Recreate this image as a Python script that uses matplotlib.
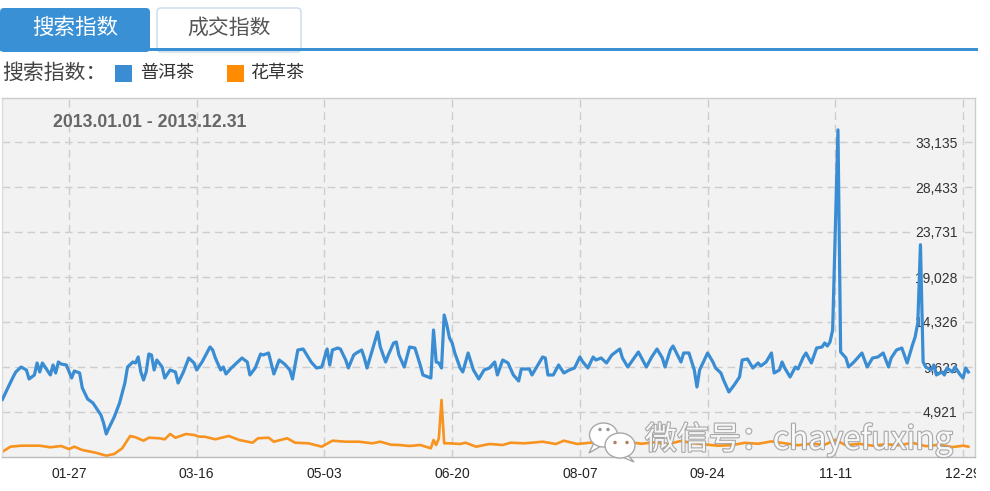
import matplotlib
matplotlib.use("Agg")
import matplotlib.pyplot as plt
import matplotlib.patheffects as pe
from matplotlib.patches import Rectangle, FancyBboxPatch, Ellipse, Polygon

plt.rcParams['font.family'] = ['Liberation Sans', 'Noto Sans CJK SC', 'DejaVu Sans']
CJK = ['Noto Sans CJK SC', 'DejaVu Sans']

# day of year (0 = 01-01) and index values
PUER_DAYS = [1, 3, 5, 6, 8, 10, 11, 13, 14, 15, 16, 19, 20, 21, 22, 23, 25, 27, 28, 30,
             31, 33, 35, 36, 38, 39, 40, 41, 43, 45, 47, 48, 50, 51, 52, 53, 54, 55, 56, 57,
             58, 59, 61, 62, 64, 66, 67, 69, 71, 73, 74, 76, 79, 80, 81, 83, 84, 85, 87, 89,
             91, 93, 94, 96, 98, 99, 101, 103, 105, 107, 109, 110, 112, 114, 117, 119, 121, 123, 124, 125,
             127, 128, 130, 131, 133, 134, 136, 137, 138, 140, 142, 143, 145, 146, 148, 149, 150, 152, 154, 156,
             158, 159, 162, 163, 164, 165, 166, 167, 168, 169, 170, 171, 173, 174, 176, 178, 180, 182, 184, 186,
             187, 189, 191, 193, 195, 196, 199, 200, 204, 205, 206, 208, 210, 212, 214, 216, 218, 219, 221, 223,
             224, 226, 228, 230, 233, 234, 236, 240, 243, 245, 247, 249, 250, 252, 253, 256, 257, 259, 261, 262,
             263, 266, 268, 269, 271, 272, 274, 276, 278, 279, 281, 283, 285, 286, 288, 290, 291, 293, 294, 295,
             297, 299, 300, 302, 303, 305, 307, 309, 310, 311, 312, 313, 315, 316, 318, 319, 321, 323, 324, 326,
             328, 330, 332, 334, 335, 337, 339, 341, 343, 344, 345, 346, 347, 348, 350, 351, 352, 354, 355, 356,
             358, 359, 361, 362, 363, 364]
PUER_VALUES = [6248, 7429, 8579, 9101, 9623, 9310, 8370, 8788, 10042, 9101, 10042, 8788, 9832, 8997, 10146, 9937, 9832, 8474, 9205, 8997,
               7429, 6280, 5862, 5444, 4607, 3771, 2622, 3249, 4398, 5862, 7952, 9623, 10146, 10042, 10669, 9101, 8265, 9101, 10982, 10878,
               9310, 10355, 9623, 8474, 9310, 9101, 7952, 9101, 10564, 10042, 9310, 10146, 11714, 11400, 10564, 9310, 9623, 8892, 9519, 10042,
               10564, 10146, 8788, 9519, 10982, 10878, 11086, 8892, 10355, 9937, 9310, 8370, 11400, 11504, 10146, 9519, 9623, 11504, 9832, 11400,
               11609, 11504, 10355, 9519, 10878, 11086, 11400, 10564, 9519, 11400, 13281, 11714, 10146, 10878, 12132, 12236, 10878, 9623, 11714, 11609,
               9832, 8788, 8474, 13490, 10146, 10042, 9519, 15057, 14013, 12654, 12132, 11086, 9519, 9101, 11086, 9310, 8370, 9310, 9519, 10146,
               8788, 10355, 10042, 8788, 8160, 9415, 9415, 8788, 10669, 10564, 8788, 8788, 9832, 8997, 9310, 9519, 10669, 10200, 9519, 10669,
               10355, 10564, 10042, 10878, 11504, 10564, 9623, 11191, 9623, 10669, 11504, 10564, 9623, 11400, 11818, 10146, 11086, 11086, 9310, 7534,
               9310, 11086, 10146, 9519, 8997, 8265, 7011, 7743, 8579, 10355, 10460, 9519, 10042, 9728, 10146, 11086, 8997, 9310, 10146, 9519,
               8579, 9623, 9415, 10669, 11086, 10042, 11609, 11714, 12132, 11818, 12236, 13490, 34400, 11191, 10564, 9623, 10146, 10773, 11086, 9623,
               10564, 10669, 11086, 9623, 10564, 11400, 11609, 10042, 11923, 12759, 14221, 22400, 10146, 9623, 9310, 9832, 8788, 9101, 8788, 9519,
               9101, 9623, 8788, 8474, 9519, 9101]

HUACAO_DAYS = [1, 4, 8, 11, 15, 19, 23, 26, 28, 31, 36, 40, 43, 46, 48, 49, 51, 54, 56, 60,
               62, 64, 66, 70, 73, 75, 77, 81, 86, 90, 95, 97, 101, 103, 108, 111, 116, 121, 125, 130,
               135, 140, 143, 147, 150, 154, 158, 162, 163, 164, 165, 166, 167, 169, 173, 175, 179, 184, 189, 192,
               197, 200, 204, 209, 212, 217, 222, 226, 231, 236, 241, 246, 251, 256, 261, 266, 270, 275, 280, 285,
               290, 295, 300, 305, 310, 314, 318, 323, 328, 333, 338, 343, 348, 353, 358, 362, 364]
HUACAO_VALUES = [772, 1295, 1399, 1399, 1399, 1232, 1368, 1054, 1295, 950, 668, 354, 532, 1128, 1995, 2413, 2277, 1922, 2235, 2173,
                 2068, 2622, 2235, 2622, 2518, 2340, 2340, 2068, 2413, 1995, 1713, 2173, 2235, 1817, 2173, 1713, 1650, 1295, 1922, 1817,
                 1817, 1650, 1817, 1500, 1473, 1368, 1473, 1128, 1995, 1473, 2173, 6175, 1650, 1650, 1577, 1713, 1295, 1577, 1473, 1713,
                 1650, 1713, 1817, 1577, 1922, 1577, 1713, 1650, 1500, 1817, 1600, 1750, 1550, 1900, 1650, 1500, 1400, 1450, 1700, 1600,
                 1850, 1650, 1450, 1600, 1500, 2000, 1450, 1600, 1400, 1550, 1450, 1700, 1350, 1500, 1250, 1400, 1300]

X_TICKS = [26, 74, 122, 170, 218, 266, 314, 362]
X_LABELS = ['01-27', '03-16', '05-03', '06-20', '08-07', '09-24', '11-11', '12-29']
Y_TICKS = [4921, 9623, 14326, 19028, 23731, 28433, 33135]
Y_LABELS = ['4,921', '9,623', '14,326', '19,028', '23,731', '28,433', '33,135']

BLUE = '#3A8DD3'
ORANGE = '#F7931E'
W, H = 990, 491

fig = plt.figure(figsize=(W / 100, H / 100), dpi=100)
fig.patch.set_facecolor('white')

# main plot
ax = fig.add_axes([2 / W, 34 / H, 973 / W, 359 / H])
ax.set_facecolor('#F2F2F2')
ax.plot(PUER_DAYS, PUER_VALUES, color=BLUE, lw=2.3, solid_joinstyle='round', zorder=3)
ax.plot(HUACAO_DAYS, HUACAO_VALUES, color=ORANGE, lw=1.9, solid_joinstyle='round', zorder=2.5)
ax.set_xlim(0.82, 366.5)
ax.set_ylim(218, 37734)
ax.set_axisbelow(True)
ax.grid(True, color='#CDCDCD', linestyle=(0, (5.5, 3.5)), linewidth=1.0)

ax.set_xticks(X_TICKS)
ax.set_xticklabels(X_LABELS)
ax.yaxis.tick_right()
ax.set_yticks(Y_TICKS)
ax.set_yticklabels(Y_LABELS)
ax.tick_params(axis='x', length=0, pad=7, labelsize=10, labelcolor='#222222')
ax.tick_params(axis='y', length=0, pad=-12.5, labelsize=10, labelcolor='#333333')
for lab in ax.get_yticklabels():
    lab.set_ha('right')
    lab.set_bbox(dict(facecolor='#F2F2F2', edgecolor='none', pad=1.5))

for side, c in [('top', '#CCCCCC'), ('left', '#DDDDDD'), ('right', '#CCCCCC'), ('bottom', '#BBBBBB')]:
    ax.spines[side].set_color(c)
    ax.spines[side].set_linewidth(1.0)

ax.text(0.0524, 0.933, '2013.01.01 - 2013.12.31', transform=ax.transAxes,
        ha='left', va='center', fontsize=12.7, fontweight='bold', color='#666666')

# overlay in pixel coordinates for tabs, legend and watermark
ov = fig.add_axes([0, 0, 1, 1], zorder=5)
ov.set_xlim(0, W)
ov.set_ylim(H, 0)
ov.set_axis_off()

ov.add_patch(FancyBboxPatch((0, 8), 150, 44, boxstyle='round,pad=0,rounding_size=4',
                            facecolor='#3990D5', edgecolor='none'))
ov.add_patch(FancyBboxPatch((157, 8), 144, 44, boxstyle='round,pad=0,rounding_size=4',
                            facecolor='white', edgecolor='#C9D9EA', lw=1))
ov.add_patch(Rectangle((0, 47.5), 978, 3, facecolor='#3990D5', edgecolor='none', zorder=3))
ov.text(75, 28, '搜索指数', family=CJK, fontsize=15.5, color='white', ha='center', va='center')
ov.text(229, 28, '成交指数', family=CJK, fontsize=15, color='#555555', ha='center', va='center')

# legend row
ov.text(2, 73, '搜索指数：', family=CJK, fontsize=15, color='#444444', ha='left', va='center')
ov.add_patch(Rectangle((115, 65), 17, 17, facecolor=BLUE, edgecolor='none'))
ov.text(140, 73, '普洱茶', family=CJK, fontsize=13, color='#333333', ha='left', va='center')
ov.add_patch(Rectangle((227, 65), 17, 17, facecolor='#FF8C00', edgecolor='none'))
ov.text(250, 73, '花草茶', family=CJK, fontsize=13, color='#333333', ha='left', va='center')

# hide what sticks out past the plot's right edge
ov.add_patch(Rectangle((975.5, 458), 20, 40, facecolor='white', edgecolor='none', zorder=4))

# watermark
edge = '#A8A8A8'
ov.add_patch(Polygon([(594, 443), (589, 453), (601, 446)], closed=True, facecolor='white', edgecolor=edge, lw=1, zorder=6))
ov.add_patch(Ellipse((603.5, 435), 28, 24, facecolor='white', edgecolor=edge, lw=1, zorder=6))
ov.add_patch(Ellipse((600, 429.5), 3.5, 3.5, facecolor='#9A9A9A', edgecolor='none', zorder=7))
ov.add_patch(Ellipse((608, 429.5), 3.5, 3.5, facecolor='#9A9A9A', edgecolor='none', zorder=7))
ov.add_patch(Polygon([(626, 453), (634, 462), (620, 456)], closed=True, facecolor='white', edgecolor=edge, lw=1, zorder=8))
ov.add_patch(Ellipse((620, 445.5), 30, 25, facecolor='white', edgecolor=edge, lw=1, zorder=8))
ov.add_patch(Ellipse((615, 442.5), 3.5, 3.5, facecolor='#B08060', edgecolor='none', zorder=9))
ov.add_patch(Ellipse((627, 442.5), 3.5, 3.5, facecolor='#B08060', edgecolor='none', zorder=9))

ov.text(645, 439, '微信号：chayefuxing', family=CJK, fontsize=23, color='white', alpha=0.9,
        ha='left', va='center', zorder=10,
        path_effects=[pe.Stroke(linewidth=1.6, foreground='#A0A0A0'), pe.Normal()])

fig.savefig('out.png', dpi=100)
